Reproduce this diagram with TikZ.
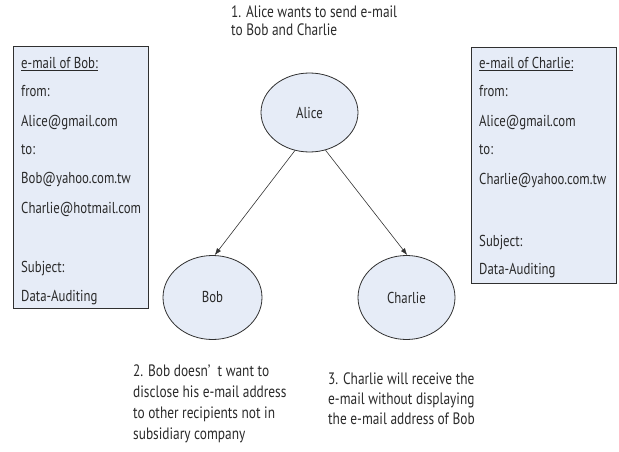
\documentclass[tikz,border=0pt]{standalone}
\usepackage{fontspec}
\setmainfont{PT Sans}[FakeStretch=0.81]
\usetikzlibrary{arrows.meta,shapes.geometric}
\definecolor{boxfill}{HTML}{E6ECF7}
\definecolor{edgecol}{HTML}{303030}
\definecolor{txtcol}{HTML}{2A2A2A}
\tikzset{
  mailbox/.style={draw=edgecol, line width=0.9pt, fill=boxfill, inner sep=0pt, anchor=north west},
  person/.style={ellipse, draw=edgecol, line width=0.8pt, fill=boxfill, inner sep=0pt, font=\fontsize{15.8}{18}\selectfont, text=txtcol},
  linetxt/.style={anchor=base west, inner sep=0pt, font=\fontsize{15.8}{18}\selectfont, text=txtcol},
  notetxt/.style={anchor=base west, inner sep=0pt, font=\fontsize{16.5}{18}\selectfont, text=txtcol},
  arr/.style={-{Latex[length=7pt,width=5pt]}, line width=0.6pt, draw=black!80}
}
\begin{document}
\begin{tikzpicture}[x=1pt,y=-1pt]
\useasboundingbox (0,0) rectangle (619,452);
% boxes
\node[mailbox, minimum width=135pt, minimum height=262pt] (boxB) at (13,46) {};
\node[mailbox, minimum width=145pt, minimum height=236pt] (boxC) at (471,47) {};
\foreach \y/\t [count=\i] in {69/{\underline{e-mail of Bob:}}, 97/{from:}, 126/{Alice@gmail.com}, 154/{to:}, 183/{Bob@yahoo.com.tw}, 213/{Charlie@hotmail.com}, 272/{Subject:}, 301/{Data-Auditing}}
  \node[linetxt] (b\i) at (21,\y) {\t};
\foreach \y/\t [count=\i] in {69/{\underline{e-mail of Charlie:}}, 97/{from:}, 126/{Alice@gmail.com}, 154/{to:}, 184/{Charlie@yahoo.com.tw}, 246/{Subject:}, 274/{Data-Auditing}}
  \node[linetxt] (c\i) at (479,\y) {\t};
% people
\node[person, minimum width=97pt, minimum height=79pt] (Alice) at (309.5,112.5) {Alice};
\node[person, minimum width=99pt, minimum height=84pt] (Bob) at (212.5,297.5) {Bob};
\node[person, minimum width=97pt, minimum height=84pt] (Charlie) at (406.5,297.5) {Charlie};
\draw[arr] (Alice.249) -- (Bob.87);
\draw[arr] (Alice.-67) -- (Charlie.89);
% notes
\foreach \y/\t [count=\i] in {18/{1. Alice wants to send e-mail}, 36/{to Bob and Charlie}}
  \node[notetxt] (n1l\i) at (231,\y) {\t};
\foreach \y/\t [count=\i] in {376/{2. Bob doesn’\ \ t want to}, 397/{disclose his e-mail address}, 418/{to other recipients not in}, 439/{subsidiary company}}
  \node[notetxt] (n2l\i) at (133,\y) {\t};
\foreach \y/\t [count=\i] in {384/{3. Charlie will receive the}, 404/{e-mail without displaying}, 424/{the e-mail address of Bob}}
  \node[notetxt] (n3l\i) at (328,\y) {\t};
\end{tikzpicture}
\end{document}
